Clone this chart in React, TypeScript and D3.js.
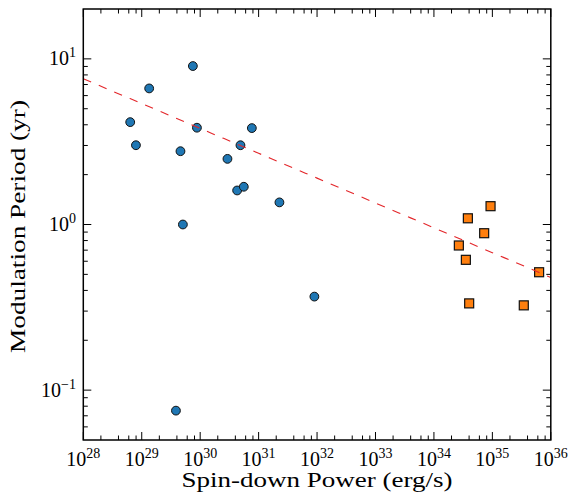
import React from "react";
import * as d3 from "d3";

// Pulsar-wind / binary sample (blue circles)
const blueSpinDown = [6.35e28, 7.96e28, 1.34e29, 4.6e29, 7.5e29, 8.8e29, 5.06e29, 3.85e29, 2.93e30, 4.89e30, 4.29e30, 5.58e30, 7.66e30, 2.27e31, 9.0e31];
const bluePeriod = [4.15, 3.01, 6.63, 2.77, 9.05, 3.84, 1.0, 0.0752, 2.49, 3.01, 1.605, 1.69, 3.82, 1.36, 0.367];
// Second sample (orange squares)
const orangeSpinDown = [9.31e34, 3.81e34, 7.24e34, 2.67e34, 3.52e34, 6.31e35, 4.01e34, 3.45e35];
const orangePeriod = [1.29, 1.09, 0.886, 0.747, 0.612, 0.515, 0.334, 0.325];
// Power-law fit: P = 10^fitLogAmp * E^fitIndex
const fitLogAmp = 5.08;
const fitIndex = -0.15;
// Axis ticks
const xMajorExp = [28, 29, 30, 31, 32, 33, 34, 35, 36];
const yMajorExp = [-1, 0, 1];
const xMinorSubs = [2, 4, 6, 8];
const yMinorSubs = [2, 3, 4, 5, 6, 7, 8, 9];
const xLabel = "Spin-down Power (erg/s)";
const yLabel = "Modulation Period (yr)";

const W = 569, H = 496;
const L = 83.3, R = 550.8, T = 9, B = 440;
const FONT = "'Liberation Serif', 'Times New Roman', serif";

export default function App() {
  const x = d3.scaleLog().domain([1e28, 1e36]).range([L, R]);
  const y = d3.scaleLog().domain([0.05, 20]).range([B, T]);

  const xMinor: number[] = [];
  xMajorExp.slice(0, -1).forEach((e) => xMinorSubs.forEach((s) => xMinor.push(s * Math.pow(10, e))));
  const yMinor: number[] = [];
  [-2, -1, 0, 1].forEach((e) => yMinorSubs.forEach((s) => {
    const v = s * Math.pow(10, e);
    if (v > 0.05 && v < 20) yMinor.push(v);
  }));

  const fitX = d3.range(0, 41).map((i) => Math.pow(10, 28 + i * 0.2));
  const line = d3.line<number>()
    .x((d) => x(d))
    .y((d) => y(Math.pow(10, fitLogAmp) * Math.pow(d, fitIndex)));

  const sq = 9;
  return (
    <svg width={W} height={H} style={{ position: "absolute", left: 0, top: 0, background: "#fff" }} fontFamily={FONT}>
      <rect x={0} y={0} width={W} height={H} fill="#fff" />
      {/* markers */}
      {blueSpinDown.map((e, i) => (
        <circle key={"b" + i} cx={x(e)} cy={y(bluePeriod[i])} r={4.4} fill="#1f77b4" stroke="#111" strokeWidth={1} />
      ))}
      {orangeSpinDown.map((e, i) => (
        <rect key={"o" + i} x={x(e) - sq / 2} y={y(orangePeriod[i]) - sq / 2} width={sq} height={sq} fill="#ff7f0e" stroke="#111" strokeWidth={1.2} />
      ))}
      {/* fit line */}
      <path d={line(fitX) || ""} fill="none" stroke="#e3262a" strokeWidth={1.1} strokeDasharray="8.5,8.3" />
      {/* ticks */}
      {xMajorExp.map((e) => {
        const px = x(Math.pow(10, e));
        return (
          <g key={"xm" + e}>
            <line x1={px} x2={px} y1={B} y2={B - 8} stroke="#000" strokeWidth={1} />
            <line x1={px} x2={px} y1={T} y2={T + 8} stroke="#000" strokeWidth={1} />
            <text x={px} y={465.5} textAnchor="middle" fontSize={20}>
              10<tspan fontSize={14} dy={-8}>{e}</tspan>
            </text>
          </g>
        );
      })}
      {xMinor.map((v, i) => {
        const px = x(v);
        return (
          <g key={"xn" + i}>
            <line x1={px} x2={px} y1={B} y2={B - 4.5} stroke="#000" strokeWidth={1} />
            <line x1={px} x2={px} y1={T} y2={T + 4.5} stroke="#000" strokeWidth={1} />
          </g>
        );
      })}
      {yMajorExp.map((e) => {
        const py = y(Math.pow(10, e));
        return (
          <g key={"ym" + e}>
            <line x1={L} x2={L + 8} y1={py} y2={py} stroke="#000" strokeWidth={1} />
            <line x1={R} x2={R - 8} y1={py} y2={py} stroke="#000" strokeWidth={1} />
            <text x={76} y={py + 6.5} textAnchor="end" fontSize={20}>
              10<tspan fontSize={14} dy={-8}>{e < 0 ? "\u2212" + Math.abs(e) : e}</tspan>
            </text>
          </g>
        );
      })}
      {yMinor.map((v, i) => {
        const py = y(v);
        return (
          <g key={"yn" + i}>
            <line x1={L} x2={L + 4.5} y1={py} y2={py} stroke="#000" strokeWidth={1} />
            <line x1={R} x2={R - 4.5} y1={py} y2={py} stroke="#000" strokeWidth={1} />
          </g>
        );
      })}
      {/* frame */}
      <rect x={L} y={T} width={R - L} height={B - T} fill="none" stroke="#000" strokeWidth={1.5} />
      {/* axis labels */}
      <text x={(L + R) / 2} y={487} textAnchor="middle" fontSize={21} textLength={271} lengthAdjust="spacingAndGlyphs">{xLabel}</text>
      <text transform={`translate(24.5, ${(T + B) / 2 + 2}) rotate(-90)`} textAnchor="middle" fontSize={21} textLength={253} lengthAdjust="spacingAndGlyphs">{yLabel}</text>
    </svg>
  );
}
